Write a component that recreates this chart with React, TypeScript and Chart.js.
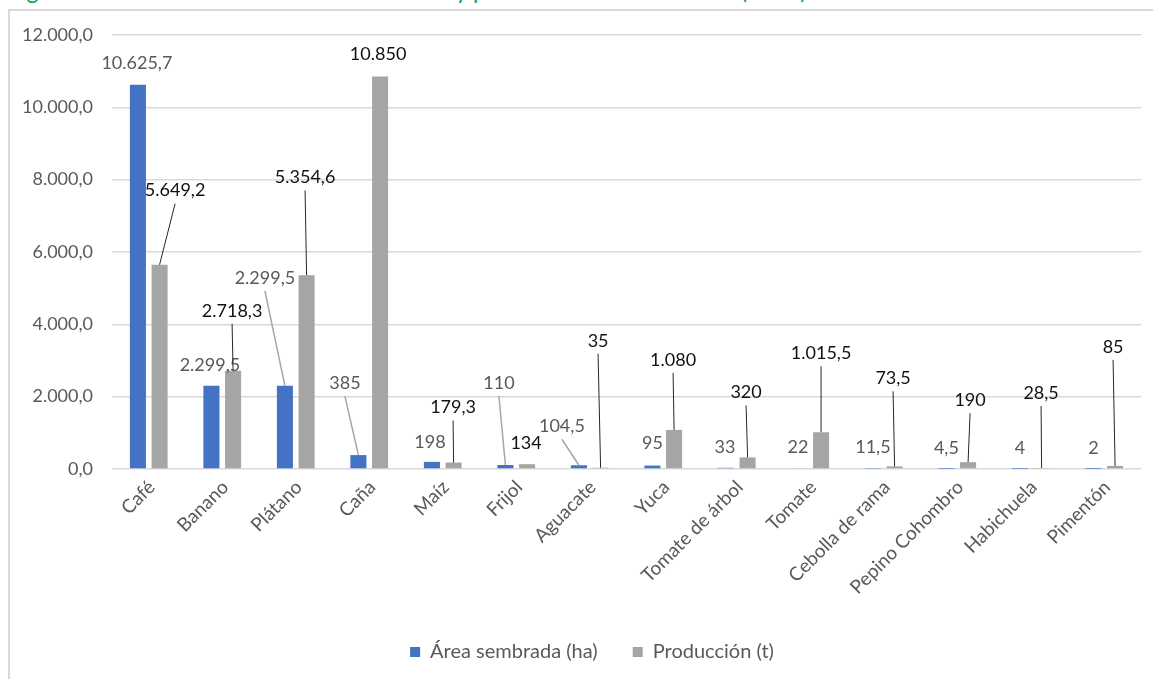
import React, { useEffect, useRef } from "react";
import { Chart, registerables } from "chart.js";

Chart.register(...registerables);

const titleText = "Figura 12. Área total sembrada en hectáreas y producción de los cultivos (2019)";

const categories = [
  "Café", "Banano", "Plátano", "Caña", "Maíz", "Frijol", "Aguacate", "Yuca",
  "Tomate de árbol", "Tomate", "Cebolla de rama", "Pepino Cohombro", "Habichuela", "Pimentón",
];
const areaSembrada = [10625.7, 2299.5, 2299.5, 385, 198, 110, 104.5, 95, 33, 22, 11.5, 4.5, 4, 2];
const produccion = [5649.2, 2718.3, 5354.6, 10850, 179.3, 134, 35, 1080, 320, 1015.5, 73.5, 190, 28.5, 85];
const seriesNames = ["Área sembrada (ha)", "Producción (t)"];
const yMin = 0;
const yMax = 12000;
const yStep = 2000;

// data-label placement: [dx, dy, leader] in px relative to the bar top
const areaLabelPlacement = [
  [-1, -22, 0], [-1.5, -21, 0], [-20, -108, 1], [-13.5, -72, 1], [-2, -20, 0], [-6.5, -82, 1], [-17, -39, 1],
  [0, -22, 0], [-1, -21, 0], [-1.5, -21, 0], [0, -21, 0], [0, -21, 0], [0, -21, 0], [0, -21, 0],
];
const produccionLabelPlacement = [
  [15.5, -74, 1], [-1, -60, 1], [-1.5, -98, 1], [-2, -22, 0], [-0.5, -55, 1], [-1, -21, 0], [-2.5, -127, 1],
  [-1, -70, 1], [-1.5, -65, 1], [0, -79, 1], [-1.5, -88, 1], [2, -62, 1], [-0.5, -75, 1], [-2, -119, 1],
];

const FONT = "Lato, 'Open Sans', sans-serif";

function fmt(v: number, decimals?: number) {
  const d = decimals ?? (Number.isInteger(v) ? 0 : 1);
  const s = v.toFixed(d);
  const [i, f] = s.split(".");
  const ig = i.replace(/\B(?=(\d{3})+(?!\d))/g, ".");
  return f ? ig + "," + f : ig;
}

const leaderLabels = {
  id: "leaderLabels",
  afterDatasetsDraw(chart: any) {
    const ctx = chart.ctx as CanvasRenderingContext2D;
    ctx.save();
    ctx.font = `18px ${FONT}`;
    ctx.textAlign = "center";
    ctx.textBaseline = "middle";
    chart.data.datasets.forEach((ds: any, di: number) => {
      const meta = chart.getDatasetMeta(di);
      const placement = di === 0 ? areaLabelPlacement : produccionLabelPlacement;
      const textColor = di === 0 ? "#595959" : "#111111";
      const lineColor = di === 0 ? "#A6A6A6" : "#262626";
      meta.data.forEach((bar: any, j: number) => {
        const { x, y } = bar.getProps(["x", "y"], true);
        const [dx, dy, leader] = placement[j];
        const lx = x + dx;
        const ly = y + dy;
        if (leader) {
          ctx.beginPath();
          ctx.strokeStyle = lineColor;
          ctx.lineWidth = di === 0 ? 1.5 : 1;
          ctx.moveTo(lx, ly + 13);
          ctx.lineTo(x, y);
          ctx.stroke();
        }
        ctx.fillStyle = textColor;
        ctx.fillText(fmt(ds.data[j]), lx, ly);
      });
    });
    ctx.restore();
  },
};

export default function App() {
  const ref = useRef<HTMLCanvasElement>(null);
  useEffect(() => {
    const chart = new Chart(ref.current!, {
      type: "bar",
      data: {
        labels: categories,
        datasets: [
          {
            label: seriesNames[0],
            data: areaSembrada,
            backgroundColor: "#4472C4",
            categoryPercentage: 0.59,
            barPercentage: 0.74,
          },
          {
            label: seriesNames[1],
            data: produccion,
            backgroundColor: "#A5A5A5",
            categoryPercentage: 0.59,
            barPercentage: 0.74,
          },
        ],
      },
      options: {
        responsive: false,
        animation: false,
        layout: { padding: { left: 0, right: -31, top: 35, bottom: 12 } },
        plugins: {
          tooltip: { enabled: false },
          legend: {
            position: "bottom",
            maxHeight: 60,
            labels: {
              boxWidth: 10,
              boxHeight: 10,
              padding: 35,
              color: "#595959",
              font: { family: FONT, size: 20 },
            },
          },
        },
        scales: {
          x: {
            grid: { display: false },
            border: { display: false },
            ticks: {
              color: "#595959",
              font: { family: FONT, size: 19 },
              maxRotation: 45,
              minRotation: 45,
              padding: -1,
              labelOffset: 3,
              autoSkip: false,
            },
            afterFit: (s: any) => {
              s.height = 138;
            },
          },
          y: {
            min: yMin,
            max: yMax,
            grid: { color: "#D9D9D9", lineWidth: 1.5, drawTicks: false },
            border: { display: false },
            ticks: {
              stepSize: yStep,
              color: "#595959",
              font: { family: FONT, size: 18 },
              padding: 19,
              callback: (v: any) => fmt(Number(v), 1),
            },
            afterFit: (s: any) => {
              s.width = 112;
            },
          },
          spacer: {
            type: "linear",
            position: "right",
            display: true,
            grid: { display: false },
            border: { display: false },
            ticks: { display: false },
            afterFit: (s: any) => {
              s.width = 43;
            },
          },
        },
      },
      plugins: [leaderLabels],
    } as any);
    return () => chart.destroy();
  }, []);

  return (
    <div style={{ position: "fixed", left: 0, top: 0, width: 1153, height: 679, background: "#fff", overflow: "hidden" }}>
      <div style={{ position: "absolute", left: 0, top: 0, width: 1153, height: 8, overflow: "hidden" }}>
        <div
          style={{
            position: "absolute",
            left: 8,
            top: -21,
            whiteSpace: "nowrap",
            fontFamily: FONT,
            fontSize: 23,
            lineHeight: "23px",
            color: "#0E9F4F",
          }}
        >
          {titleText}
        </div>
      </div>
      <div
        style={{
          position: "absolute",
          left: 8,
          top: 9,
          width: 1200,
          height: 720,
          border: "2px solid #D9D9D9",
          boxSizing: "border-box",
        }}
      />
      <canvas ref={ref} width={1153} height={679} style={{ position: "absolute", left: 0, top: 0 }} />
    </div>
  );
}
